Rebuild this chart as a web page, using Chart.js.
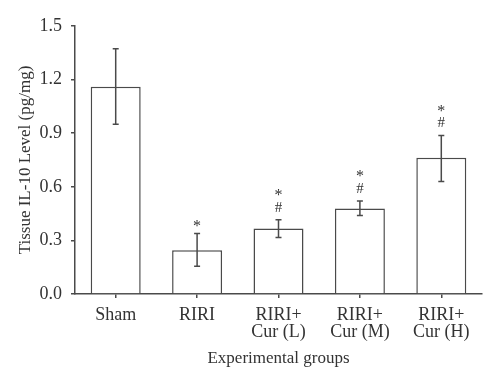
<!DOCTYPE html>
<html>
<head>
<meta charset="utf-8">
<script src="https://cdn.jsdelivr.net/npm/chart.js@4"></script>
<style>
html,body{margin:0;padding:0;background:#fff;}
#wrap{width:500px;height:383px;}
</style>
</head>
<body>
<div id="wrap"><canvas id="c" width="500" height="383"></canvas></div>
<script>
const categories = [["Sham"], ["RIRI"], ["RIRI+", "Cur (L)"], ["RIRI+", "Cur (M)"], ["RIRI+", "Cur (H)"]];
const means = [1.16, 0.245, 0.366, 0.478, 0.762];
const errHigh = [1.373, 0.338, 0.416, 0.520, 0.887];
const errLow = [0.950, 0.156, 0.316, 0.440, 0.630];
const marks = [[], ["*"], ["*", "#"], ["*", "#"], ["*", "#"]];
const yTicks = [0.0, 0.3, 0.6, 0.9, 1.2, 1.5];

const lineColor = '#4a4a4a';
const textColor = '#333333';
const serif = "'Liberation Serif', 'DejaVu Serif', serif";

const errorBars = {
  id: 'errorBars',
  afterDatasetsDraw(chart) {
    const ctx = chart.ctx;
    const meta = chart.getDatasetMeta(0);
    const y = chart.scales.y;
    ctx.save();
    ctx.strokeStyle = lineColor;
    ctx.lineWidth = 1.5;
    meta.data.forEach((bar, i) => {
      const x = bar.x;
      const yt = y.getPixelForValue(errHigh[i]);
      const yb = y.getPixelForValue(errLow[i]);
      ctx.beginPath();
      ctx.moveTo(x, yt); ctx.lineTo(x, yb);
      ctx.moveTo(x - 3, yt); ctx.lineTo(x + 3, yt);
      ctx.moveTo(x - 3, yb); ctx.lineTo(x + 3, yb);
      ctx.stroke();
      ctx.fillStyle = textColor;
      ctx.textAlign = 'center';
      ctx.textBaseline = 'middle';
      const m = marks[i];
      if (m.length === 1) {
        ctx.font = "16px " + serif;
        ctx.fillText(m[0], x, yt - 7);
      } else if (m.length === 2) {
        ctx.font = "16px " + serif;
        ctx.fillText(m[0], x, yt - 24);
        ctx.font = "15px " + serif;
        ctx.fillText(m[1], x, yt - 12);
      }
    });
    ctx.restore();
  }
};

new Chart(document.getElementById('c'), {
  type: 'bar',
  data: {
    labels: categories,
    datasets: [{
      data: means,
      backgroundColor: '#ffffff',
      borderColor: lineColor,
      borderWidth: 1.5,
      categoryPercentage: 1.0,
      barPercentage: 0.614
    }]
  },
  options: {
    responsive: false,
    animation: false,
    events: [],
    layout: { padding: { top: 26, right: 18, left: 11, bottom: 14 } },
    plugins: { legend: { display: false }, tooltip: { enabled: false } },
    scales: {
      x: {
        grid: { display: true, offset: false, drawOnChartArea: false, drawTicks: true, tickLength: 4, color: lineColor, lineWidth: 1.5 },
        border: { display: true, color: lineColor, width: 1.5 },
        ticks: { color: textColor, font: { family: serif, size: 18, lineHeight: 0.95 }, padding: 9, maxRotation: 0, autoSkip: false },
        title: { display: true, text: 'Experimental groups', color: textColor, font: { family: serif, size: 17 }, padding: { top: 0, bottom: 0 } },
        afterFit(scale) { scale.height = 75; }
      },
      y: {
        min: 0, max: 1.5,
        afterBuildTicks(scale) { scale.ticks = yTicks.map(v => ({ value: v })); },
        grid: { display: true, drawOnChartArea: false, drawTicks: true, tickLength: 4, color: lineColor, lineWidth: 1.5 },
        border: { display: true, color: lineColor, width: 1.5 },
        ticks: { color: textColor, font: { family: serif, size: 18 }, padding: 9, callback: v => Number(v).toFixed(1) },
        title: { display: true, text: 'Tissue IL-10 Level (pg/mg)', color: textColor, font: { family: serif, size: 17 }, padding: { bottom: 0 } },
        afterFit(scale) { scale.width = 64; }
      }
    }
  },
  plugins: [errorBars]
});
</script>
</body>
</html>
